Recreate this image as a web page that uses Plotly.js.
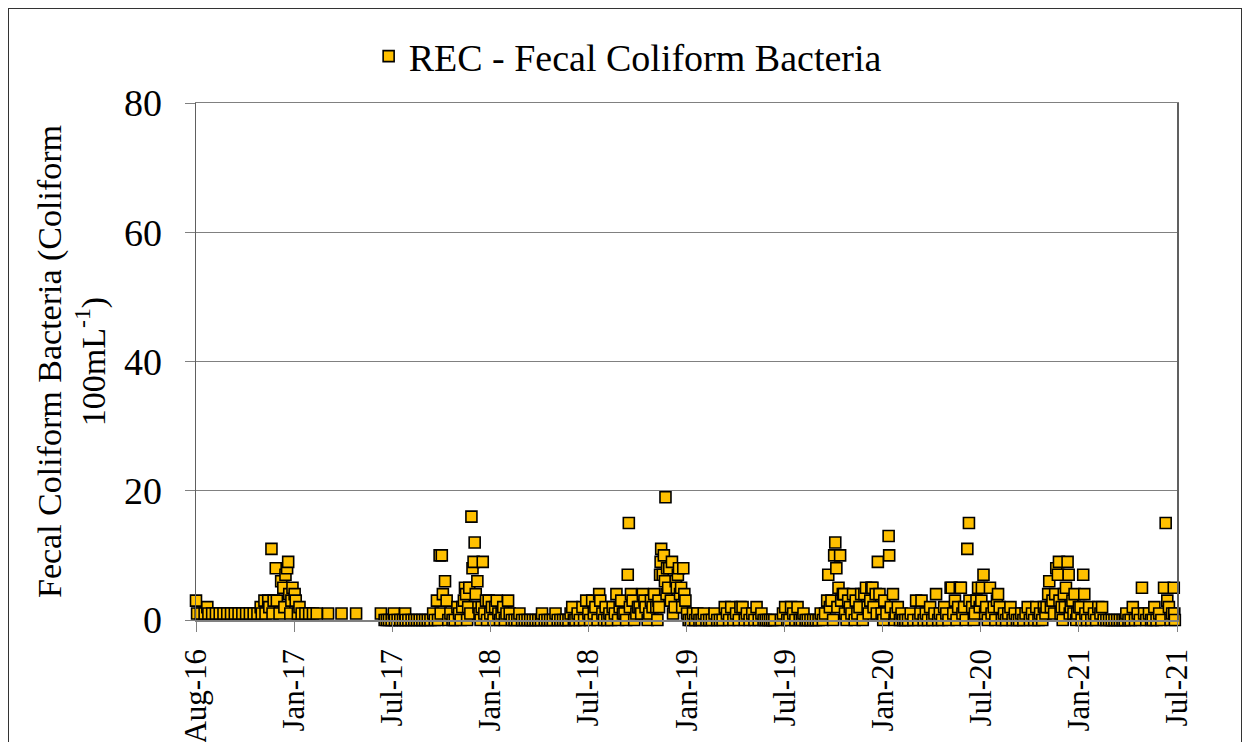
<!DOCTYPE html>
<html>
<head>
<meta charset="utf-8">
<script src="https://cdn.plot.ly/plotly-3.0.1.min.js"></script>
<style>
  html, body { margin: 0; padding: 0; background: #fff; }
  #wrap { position: relative; width: 1250px; height: 742px; overflow: hidden; }
  #chart { position: absolute; left: 0; top: 0; width: 1250px; height: 742px; }
  #frame { position: absolute; left: 8px; top: 8px; width: 1232px; height: 800px; border: 1px solid #333; pointer-events: none; }
</style>
</head>
<body>
<div id="wrap"><div id="chart"></div><div id="frame"></div></div>
<script>
// ---- Data: REC - Fecal Coliform Bacteria (Coliform 100mL-1) ----
const dates1617 = ['2016-08-01','2016-08-03','2016-08-10','2016-08-17','2016-08-22','2016-08-24','2016-08-31','2016-09-07','2016-09-14','2016-09-21','2016-09-28','2016-10-05','2016-10-12','2016-10-19','2016-10-26','2016-11-02','2016-11-09','2016-11-16','2016-11-23','2016-11-29','2016-12-01','2016-12-06','2016-12-08','2016-12-13','2016-12-15','2016-12-19','2016-12-21','2016-12-23','2016-12-27','2016-12-29','2017-01-03','2017-01-06','2017-01-10','2017-01-12','2017-01-14','2017-01-17','2017-01-19','2017-01-21','2017-01-23','2017-01-25','2017-01-27','2017-01-31','2017-02-02','2017-02-06','2017-02-09','2017-02-13','2017-02-20','2017-02-27','2017-03-06','2017-03-13','2017-04-03','2017-04-28','2017-05-25','2017-07-10'];
const fc1617 = [3,1,1,1,2,1,1,1,1,1,1,1,1,1,1,1,1,1,1,2,1,3,1,3,2,11,1,3,8,3,1,6,5,2,7,8,9,4,1,3,5,4,3,1,2,1,1,1,1,1,1,1,1,1];

const dates1718 = ['2017-07-17','2017-07-21','2017-07-25','2017-07-30','2017-08-03','2017-08-05','2017-08-10','2017-08-15','2017-08-20','2017-08-24','2017-08-25','2017-08-30','2017-09-05','2017-09-10','2017-09-15','2017-09-20','2017-09-25','2017-09-30','2017-10-05','2017-10-10','2017-10-15','2017-10-18','2017-10-22','2017-10-24','2017-10-27','2017-10-29','2017-10-31','2017-11-02','2017-11-06','2017-11-09','2017-11-12','2017-11-16','2017-11-20','2017-11-24','2017-11-29','2017-12-02','2017-12-05','2017-12-08','2017-12-11','2017-12-13','2017-12-15','2017-12-17','2017-12-19','2017-12-21','2017-12-23','2017-12-25','2017-12-27','2017-12-29','2017-12-31','2018-01-02','2018-01-05','2018-01-07','2018-01-09','2018-01-11','2018-01-13','2018-01-15','2018-01-18','2018-01-21','2018-01-23','2018-01-26','2018-01-29','2018-02-01','2018-02-04','2018-02-07','2018-02-10','2018-02-13','2018-02-16','2018-02-19','2018-02-22','2018-02-25','2018-02-28','2018-03-03','2018-03-06','2018-03-10','2018-03-15','2018-03-20','2018-03-24','2018-03-29','2018-04-03','2018-04-08','2018-04-13','2018-04-18','2018-04-23','2018-04-28','2018-05-03','2018-05-05','2018-05-10','2018-05-15','2018-05-20','2018-05-25','2018-05-30','2018-06-03','2018-06-08','2018-06-13','2018-06-18','2018-06-23','2018-06-27','2018-06-30','2018-07-03'];
const fc1718 = [0,0,0,0,1,0,0,0,0,1,0,0,0,0,0,0,0,0,0,0,1,0,3,0,10,1,10,4,6,3,0,1,0,0,2,1,0,2,3,5,4,0,2,5,1,16,8,9,12,4,6,2,1,0,2,9,1,3,0,3,1,2,0,2,3,1,0,1,2,0,1,3,1,0,0,0,1,0,0,0,0,0,0,0,0,1,0,0,0,0,1,0,0,0,0,0,1,2,0];

const dates1819 = ['2018-07-06','2018-07-10','2018-07-14','2018-07-19','2018-07-22','2018-07-26','2018-07-30','2018-08-02','2018-08-06','2018-08-09','2018-08-12','2018-08-16','2018-08-19','2018-08-21','2018-08-25','2018-08-28','2018-08-31','2018-09-03','2018-09-07','2018-09-10','2018-09-13','2018-09-17','2018-09-20','2018-09-23','2018-09-26','2018-09-29','2018-10-02','2018-10-05','2018-10-08','2018-10-11','2018-10-13','2018-10-15','2018-10-17','2018-10-20','2018-10-23','2018-10-27','2018-10-30','2018-11-02','2018-11-05','2018-11-08','2018-11-11','2018-11-13','2018-11-17','2018-11-20','2018-11-23','2018-11-26','2018-11-29','2018-12-03','2018-12-05','2018-12-07','2018-12-08','2018-12-10','2018-12-11','2018-12-12','2018-12-15','2018-12-17','2018-12-19','2018-12-20','2018-12-22','2018-12-23','2018-12-25','2018-12-27','2018-12-30','2019-01-01','2019-01-03','2019-01-06','2019-01-08','2019-01-10','2019-01-12','2019-01-14','2019-01-16','2019-01-18','2019-01-20','2019-01-22','2019-01-24','2019-01-26','2019-01-29','2019-02-01','2019-02-05','2019-02-09','2019-02-13','2019-02-17','2019-02-21','2019-02-25','2019-03-01','2019-03-06','2019-03-11','2019-03-16','2019-03-21','2019-03-26','2019-03-31','2019-04-05','2019-04-09','2019-04-13','2019-04-17','2019-04-21','2019-04-25','2019-04-30','2019-05-05','2019-05-08','2019-05-12','2019-05-16','2019-05-20','2019-05-25','2019-05-30','2019-06-03','2019-06-07','2019-06-11','2019-06-16','2019-06-20','2019-06-24','2019-06-28','2019-07-02','2019-07-06','2019-07-10'];
const fc1819 = [0,1,0,2,0,3,1,0,3,1,2,0,4,3,1,0,2,0,1,0,2,1,4,0,2,3,1,1,0,7,15,2,4,3,0,1,2,2,1,4,3,2,0,1,3,2,4,2,0,3,2,7,9,11,7,10,6,19,4,8,5,8,3,9,1,2,6,5,7,8,4,5,2,8,4,3,1,0,0,1,0,1,0,0,1,0,0,0,1,0,0,0,2,1,0,2,0,1,0,2,2,0,1,0,1,0,2,0,1,0,0,0,0,0,0];

const dates1920 = ['2019-07-22','2019-07-26','2019-07-30','2019-08-03','2019-08-07','2019-08-10','2019-08-14','2019-08-18','2019-08-22','2019-08-26','2019-08-30','2019-09-02','2019-09-06','2019-09-10','2019-09-15','2019-09-20','2019-09-25','2019-09-30','2019-10-04','2019-10-08','2019-10-12','2019-10-16','2019-10-18','2019-10-21','2019-10-24','2019-10-27','2019-10-29','2019-10-31','2019-11-02','2019-11-04','2019-11-06','2019-11-09','2019-11-11','2019-11-14','2019-11-16','2019-11-18','2019-11-21','2019-11-24','2019-11-27','2019-11-30','2019-12-03','2019-12-06','2019-12-08','2019-12-11','2019-12-15','2019-12-18','2019-12-21','2019-12-24','2019-12-27','2019-12-30','2020-01-01','2020-01-04','2020-01-06','2020-01-08','2020-01-10','2020-01-14','2020-01-16','2020-01-18','2020-01-21','2020-01-25','2020-01-28','2020-01-30','2020-02-03','2020-02-07','2020-02-08','2020-02-11','2020-02-15','2020-02-18','2020-02-20','2020-02-24','2020-02-28','2020-03-02','2020-03-05','2020-03-09','2020-03-14','2020-03-19','2020-03-24','2020-03-29','2020-04-02','2020-04-06','2020-04-08','2020-04-12','2020-04-16','2020-04-20','2020-04-24','2020-04-28','2020-05-02','2020-05-05','2020-05-09','2020-05-12','2020-05-16','2020-05-20','2020-05-24','2020-05-28','2020-06-01','2020-06-03','2020-06-06','2020-06-09','2020-06-12','2020-06-15','2020-06-18','2020-06-20','2020-06-23','2020-06-26','2020-06-29','2020-07-02','2020-07-05','2020-07-06'];
const fc1920 = [0,1,2,0,0,2,1,0,2,0,0,1,0,0,0,0,0,0,1,0,1,3,7,2,3,0,10,12,8,2,5,10,3,4,4,1,0,3,2,1,4,0,3,1,2,4,0,4,5,2,1,3,5,5,2,4,1,9,4,1,0,3,1,13,10,2,4,0,1,2,0,1,0,0,0,1,0,3,0,1,3,0,1,0,2,0,1,4,0,1,0,2,1,0,5,5,1,3,0,2,5,5,1,2,0,11,15,3];

const dates2021 = ['2020-07-11','2020-07-14','2020-07-16','2020-07-19','2020-07-22','2020-07-25','2020-07-28','2020-07-29','2020-08-01','2020-08-04','2020-08-06','2020-08-09','2020-08-13','2020-08-16','2020-08-20','2020-08-23','2020-08-26','2020-08-28','2020-08-31','2020-09-04','2020-09-08','2020-09-12','2020-09-16','2020-09-20','2020-09-24','2020-09-28','2020-10-02','2020-10-06','2020-10-10','2020-10-14','2020-10-18','2020-10-22','2020-10-26','2020-10-30','2020-11-03','2020-11-07','2020-11-11','2020-11-14','2020-11-18','2020-11-21','2020-11-24','2020-11-26','2020-11-29','2020-12-01','2020-12-04','2020-12-07','2020-12-10','2020-12-12','2020-12-14','2020-12-17','2020-12-19','2020-12-20','2020-12-22','2020-12-24','2020-12-26','2020-12-28','2020-12-30','2021-01-01','2021-01-04','2021-01-06','2021-01-08','2021-01-10','2021-01-13','2021-01-15','2021-01-17','2021-01-20','2021-01-22','2021-01-25','2021-01-28','2021-01-30','2021-02-02','2021-02-04','2021-02-06','2021-02-09','2021-02-13','2021-02-17','2021-02-22','2021-02-26','2021-03-02','2021-03-06','2021-03-09','2021-03-12','2021-03-17','2021-03-22','2021-03-27','2021-04-01','2021-04-06','2021-04-11','2021-04-16','2021-04-20','2021-04-23','2021-04-27','2021-05-01','2021-05-05','2021-05-09','2021-05-14','2021-05-18','2021-05-22','2021-05-26','2021-05-30','2021-06-04','2021-06-08','2021-06-11','2021-06-14','2021-06-18','2021-06-23','2021-06-27','2021-07-02','2021-07-05','2021-07-08','2021-07-11','2021-07-14','2021-07-17','2021-07-20','2021-07-21','2021-07-22'];
const fc2021 = [2,0,1,3,5,2,3,5,7,1,2,0,5,1,2,0,3,4,2,0,1,0,1,2,0,1,0,0,1,0,1,2,0,1,0,2,0,1,0,2,1,2,4,6,2,3,1,4,8,7,9,3,1,2,0,4,2,5,9,7,1,2,3,1,4,0,1,2,2,0,7,4,1,0,2,0,1,0,2,1,2,0,0,0,0,0,0,0,0,0,1,0,0,2,0,1,0,5,1,0,1,0,0,2,0,1,0,5,15,3,2,0,1,5,1,0];

const tickDates = ['2016-08-01','2017-01-30','2017-07-31','2018-01-29','2018-07-30','2019-01-28','2019-07-29','2020-01-27','2020-07-27','2021-01-25','2021-07-26'];
const tickLabels = ['Aug-16','Jan-17','Jul-17','Jan-18','Jul-18','Jan-19','Jul-19','Jan-20','Jul-20','Jan-21','Jul-21'];
const yTicks = [0, 20, 40, 60, 80];

const sampleDates = [].concat(dates1617, dates1718, dates1819, dates1920, dates2021);
const fecalColiform = [].concat(fc1617, fc1718, fc1819, fc1920, fc2021);

const serif = 'Liberation Serif, Times New Roman, serif';

const trace = {
  type: 'scatter',
  mode: 'markers',
  name: 'REC - Fecal Coliform Bacteria',
  x: sampleDates,
  y: fecalColiform,
  cliponaxis: false,
  marker: { symbol: 'square', size: 11, color: '#FFC000', line: { color: '#000000', width: 1.6 } }
};

const layout = {
  width: 1250, height: 742,
  margin: { l: 196, r: 73, t: 103, b: 122, pad: 0 },
  paper_bgcolor: 'rgba(0,0,0,0)',
  plot_bgcolor: '#ffffff',
  showlegend: true,
  legend: {
    x: 0.44, xanchor: 'center', y: 1.09, yanchor: 'middle',
    orientation: 'h', font: { family: serif, size: 38, color: '#000' },
    bgcolor: 'rgba(0,0,0,0)', itemwidth: 30
  },
  xaxis: {
    type: 'date',
    range: [tickDates[0], tickDates[tickDates.length - 1]],
    tickmode: 'array', tickvals: tickDates, ticktext: tickLabels,
    tickangle: -90,
    ticks: 'outside', ticklen: 10, tickcolor: '#808080', tickwidth: 1,
    ticklabelstandoff: 5,
    showgrid: false, zeroline: false,
    showline: true, linecolor: '#808080', linewidth: 1.5, mirror: true,
    tickfont: { family: serif, size: 31, color: '#000' },
    fixedrange: true
  },
  yaxis: {
    range: [0, 80],
    tickmode: 'array', tickvals: yTicks,
    ticks: 'outside', ticklen: 10, tickcolor: '#808080', tickwidth: 1,
    ticklabelstandoff: 15,
    showgrid: true, gridcolor: '#808080', gridwidth: 1,
    zeroline: false,
    showline: true, linecolor: '#606060', linewidth: 1.5, mirror: true,
    tickfont: { family: serif, size: 38, color: '#000' },
    title: { text: 'Fecal Coliform Bacteria (Coliform<br>100mL<sup>-1</sup>)', font: { family: serif, size: 34, color: '#000' }, standoff: 8 },
    fixedrange: true
  }
};

Plotly.newPlot('chart', [trace], layout, { displayModeBar: false, staticPlot: true });
</script>
</body>
</html>
